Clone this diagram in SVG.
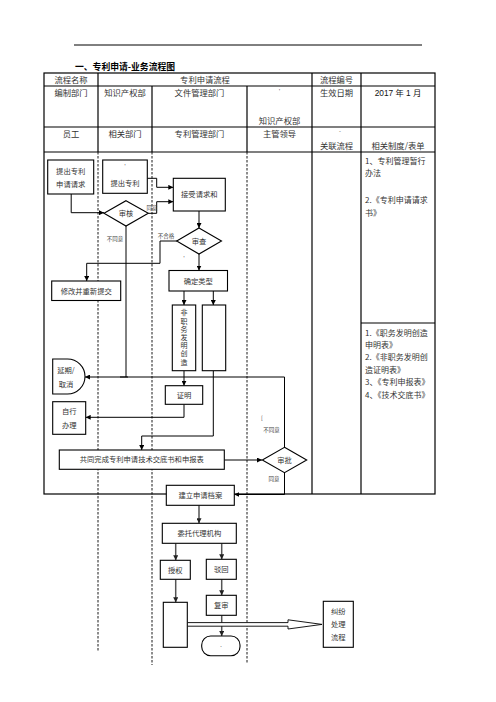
<svg xmlns="http://www.w3.org/2000/svg" width="496" height="702" viewBox="0 0 496 702">
<style>
text{font-family:"Noto Sans CJK SC","Liberation Serif",serif;fill:#222}
.h{font-size:8.3px;text-anchor:middle;fill:#333}
.b{font-size:7.3px;text-anchor:middle;fill:#333}
.v{font-size:7px;text-anchor:middle;fill:#333;writing-mode:vertical-rl;letter-spacing:1.2px}
.s{font-size:5.5px;text-anchor:middle;fill:#444}
.r{font-size:8px;fill:#333}
.t{fill:none;stroke:#000;stroke-width:1.2}
.d{fill:none;stroke:#000;stroke-width:0.9;stroke-dasharray:2.5 1.5}
.box{fill:#fff;stroke:#000;stroke-width:1.1}
.c{fill:none;stroke:#000;stroke-width:1}
.g{fill:none;stroke:#555;stroke-width:1.5}
</style>
<defs>
<marker id="a" viewBox="0 0 10 10" refX="10" refY="5" markerWidth="5" markerHeight="5" orient="auto" markerUnits="userSpaceOnUse"><path d="M0,0 L10,5 L0,10 Z" fill="#000"/></marker>
<marker id="ag" viewBox="0 0 10 10" refX="10" refY="5" markerWidth="5" markerHeight="5" orient="auto" markerUnits="userSpaceOnUse"><path d="M0,0 L10,5 L0,10 Z" fill="#222"/></marker>
</defs>
<rect width="496" height="702" fill="#fff"/>
<line x1="74" y1="45" x2="422" y2="45" stroke="#000" stroke-width="1"/>
<text x="75" y="69.5" style="font-size:8.8px;font-weight:bold;fill:#000">一、专利申请-业务流程图</text>
<g id="table">
<rect x="44" y="73" width="391" height="421" class="t"/>
<line x1="44" y1="86" x2="435" y2="86" class="t"/>
<line x1="44" y1="127" x2="435" y2="127" class="t"/>
<line x1="44" y1="152" x2="435" y2="152" class="t"/>
<line x1="98" y1="73" x2="98" y2="152" class="t"/>
<line x1="152" y1="86" x2="152" y2="152" class="t"/>
<line x1="247" y1="86" x2="247" y2="152" class="t"/>
<line x1="312" y1="73" x2="312" y2="494" class="t"/>
<line x1="361" y1="73" x2="361" y2="494" class="t"/>
<line x1="361" y1="323" x2="435" y2="323" class="t"/>
<line x1="98" y1="152" x2="98" y2="651" class="d"/>
<line x1="152" y1="152" x2="152" y2="665" class="d"/>
<line x1="247" y1="152" x2="247" y2="664" class="d"/>
<text class="h" x="71" y="83">流程名称</text>
<text class="h" x="205" y="83">专利申请流程</text>
<text class="h" x="336.5" y="83">流程编号</text>
<text class="h" x="71" y="96">编制部门</text>
<text class="h" x="125" y="96">知识产权部</text>
<text class="h" x="199.5" y="96">文件管理部门</text>
<text class="s" x="279.5" y="93">'</text>
<text class="h" x="279.5" y="123.5">知识产权部</text>
<text class="h" x="336.5" y="96">生效日期</text>
<text x="398" y="96" style="font-size:8.3px;text-anchor:middle;font-family:'Liberation Sans','Noto Sans CJK SC',sans-serif;fill:#111">2017 年 1 月</text>
<text class="h" x="71" y="137">员工</text>
<text class="h" x="125" y="137">相关部门</text>
<text class="h" x="199.5" y="137">专利管理部门</text>
<text class="h" x="279.5" y="137">主管领导</text>
<text class="s" x="340" y="133">-</text>
<text class="h" x="336.5" y="148.5">关联流程</text>
<text class="h" x="398" y="148.5">相关制度/表单</text>
<text class="r" x="365" y="163.5">1、专利管理暂行</text>
<text class="r" x="365" y="176">办法</text>
<text class="r" x="365" y="203">2.《专利申请请求</text>
<text class="r" x="365" y="215.5">书》</text>
<text class="r" x="365" y="336">1.《职务发明创造</text>
<text class="r" x="365" y="348">申明表》</text>
<text class="r" x="365" y="360">2.《非职务发明创</text>
<text class="r" x="365" y="372.5">造证明表》</text>
<text class="r" x="365" y="385">3、《专利申报表》</text>
<text class="r" x="365" y="398">4、《技术交底书》</text>
</g>
<g id="connectors">
<path class="c" d="M147.3,178.3 H156.7 V187.3 H173.3" marker-end="url(#a)"/>
<path class="c" d="M148.3,213.3 H156.7 V201.7 H173.3" marker-end="url(#a)"/>
<path class="c" d="M71.2,194 V212.7 H104" marker-end="url(#a)"/>
<path class="c" d="M126,226 V377"/>
<path class="c" d="M120,377 H128"/>
<path class="c" d="M199,211 V228" marker-end="url(#a)"/>
<path class="c" d="M177,241 H160 V263.3 H86.7 V281" marker-end="url(#a)"/>
<path class="c" d="M199,254 V270.5" marker-end="url(#a)"/>
<path class="c" d="M184,291 V305" marker-end="url(#a)"/>
<path class="c" d="M213.3,291 V305" marker-end="url(#a)"/>
<path class="c" d="M184,370.7 V385.7" marker-end="url(#a)"/>
<path class="c" d="M184,404.3 V417.3 H85.7" marker-end="url(#a)"/>
<path class="c" d="M213.3,370.7 V436 H141.7 V450" marker-end="url(#a)"/>
<path class="c" d="M284.5,447.3 V377 H85" marker-end="url(#a)"/>
<path class="c" d="M224.3,460 H262" marker-end="url(#a)"/>
<path class="c" d="M284.5,472.7 V494.5 H234.3" stroke-width="1.5" marker-end="url(#a)"/>
<path class="g" d="M199,505.3 V523.3" marker-end="url(#ag)"/>
<path class="g" d="M175.7,543.3 V560.3" marker-end="url(#ag)"/>
<path class="g" d="M221.7,543.3 V559.3" marker-end="url(#ag)"/>
<path class="g" d="M175.7,579.3 V602.3" marker-end="url(#ag)"/>
<path class="g" d="M221.7,579.3 V595.3" marker-end="url(#ag)"/>
<path class="g" d="M221.7,615.3 V636" marker-end="url(#ag)"/>
<path d="M187.5,622.6 H288 V619.8 L322,624.4 L288,629 V626.2 H187.5" fill="#fff" stroke="#000" stroke-width="0.9"/>
<text class="s" x="166" y="238">不合格</text>
<text class="s" x="152" y="210">同意</text>
<text class="s" x="115" y="241">不同意</text>
<text class="s" x="184" y="260">'</text>
<text class="s" x="262" y="420">[</text>
<text class="s" x="271.5" y="432">不同意</text>
<text class="s" x="274" y="481">同意</text>
</g>
<g id="n1"><rect class="box" x="47.7" y="160" width="46" height="34"/><text class="b" x="70.7" y="174">提出专利</text><text class="b" x="70.7" y="187">申请请求</text></g>
<g id="n2"><rect class="box" x="102.7" y="160" width="44.6" height="33.3"/><text class="s" x="125" y="168">'</text><text class="b" x="125" y="185.5">提出专利</text></g>
<g id="n3"><rect class="box" x="173.3" y="178.3" width="52" height="32.7"/><text class="b" x="199.3" y="197.3">接受请求和</text></g>
<g id="n4"><polygon class="box" points="126,200.7 148.3,213.3 126,226 104,213.3"/><text class="b" x="126" y="216">审核</text></g>
<g id="n5"><polygon class="box" points="199,228 221.5,241 199,254 176.7,241"/><text class="b" x="199" y="243.8">审查</text></g>
<g id="n6"><rect class="box" x="51.7" y="281" width="69" height="19.5"/><text class="b" x="86.2" y="293.5">修改并重新提交</text></g>
<g id="n7"><rect class="box" x="169" y="270.5" width="58.5" height="20.5"/><text class="b" x="198.3" y="283.5">确定类型</text></g>
<g id="n8"><rect class="box" x="172.3" y="305" width="23.4" height="65.7"/><text class="v" x="184" y="338">非职务发明创造</text></g>
<g id="n9"><rect class="box" x="202.3" y="305" width="23.4" height="65.7"/></g>
<g id="n10"><path class="box" d="M52.7,359 H67.5 A17.5,17.5 0 0 1 67.5,394 H52.7 Z"/><text class="b" x="66" y="373">延期/</text><text class="b" x="66" y="387">取消</text></g>
<g id="n11"><rect class="box" x="165.3" y="385.7" width="37.4" height="18.6"/><text class="b" x="184" y="397.5">证明</text></g>
<g id="n12"><rect class="box" x="52.7" y="401.7" width="33" height="32.6"/><text class="b" x="69.2" y="414">自行</text><text class="b" x="69.2" y="428">办理</text></g>
<g id="n13"><rect class="box" x="59.3" y="450" width="165" height="19.3"/><text class="b" x="141.8" y="462.3">共同完成专利申请技术交底书和申报表</text></g>
<g id="n14"><polygon class="box" points="284.5,447.3 306.7,460 284.5,472.7 262.3,460"/><text class="b" x="284.5" y="462.7">审批</text></g>
<g id="n15"><rect class="box" x="166.3" y="485.3" width="68" height="20"/><text class="b" x="200.3" y="498">建立申请档案</text></g>
<g id="n16"><rect class="box" x="162.3" y="523.3" width="74" height="20"/><text class="b" x="199.3" y="536">委托代理机构</text></g>
<g id="n17"><rect class="box" x="160.3" y="560.3" width="30" height="19"/><text class="b" x="175.3" y="572.5">授权</text></g>
<g id="n18"><rect class="box" x="206.3" y="559.3" width="30" height="20"/><text class="b" x="221.3" y="572">驳回</text></g>
<g id="n19"><rect class="box" x="163.3" y="602.3" width="24" height="45"/></g>
<g id="n20"><rect class="box" x="206.3" y="595.3" width="30" height="20"/><text class="b" x="221.3" y="608">复审</text></g>
<g id="n21"><rect class="box" x="201.7" y="636" width="38.3" height="19.7" rx="9"/><text class="s" x="221" y="647">.</text></g>
<g id="n22"><rect class="box" x="323.3" y="601.3" width="30" height="46"/><text class="b" x="338.3" y="613.5">纠纷</text><text class="b" x="338.3" y="627">处理</text><text class="b" x="338.3" y="640">流程</text></g>
</svg>
